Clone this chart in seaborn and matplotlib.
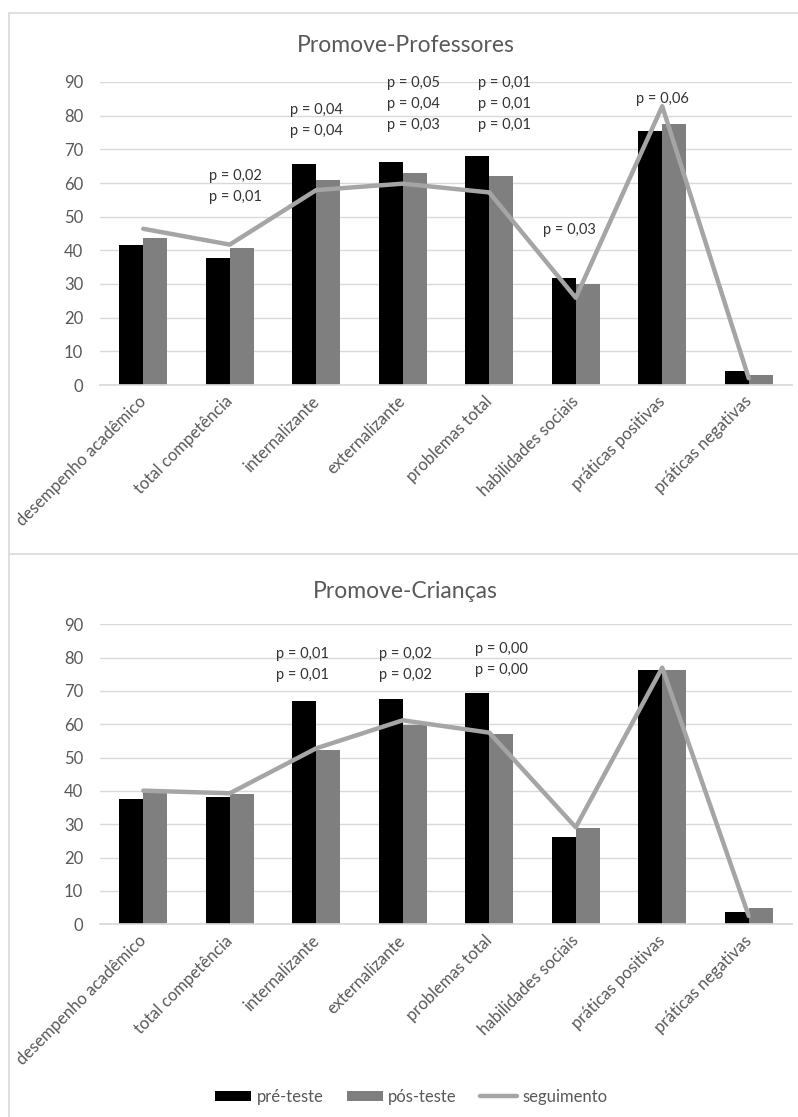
import numpy as np
import pandas as pd
import seaborn as sns
import matplotlib.pyplot as plt
from matplotlib.patches import Patch
from matplotlib.lines import Line2D

# dados
categorias = ["desempenho acadêmico", "total competência", "internalizante", "externalizante",
              "problemas total", "habilidades sociais", "práticas positivas", "práticas negativas"]
series = ["pré-teste", "pós-teste", "seguimento"]

# Promove-Professores
prof_pre = [41.5, 37.6, 65.5, 66.1, 68.0, 31.7, 75.5, 4.2]
prof_pos = [43.7, 40.6, 61.0, 62.9, 62.0, 29.9, 77.6, 3.0]
prof_seg = [46.4, 41.7, 57.9, 59.8, 57.2, 25.9, 82.8, 2.0]

# Promove-Crianças
cri_pre = [37.6, 38.1, 66.9, 67.5, 69.4, 26.3, 76.3, 3.7]
cri_pos = [39.6, 39.1, 52.2, 59.8, 57.0, 28.8, 76.3, 5.0]
cri_seg = [40.1, 39.3, 52.8, 61.2, 57.5, 29.1, 77.0, 2.5]

# valores de p por categoria
prof_pvals = {1: ["p = 0,02", "p = 0,01"],
              2: ["p = 0,04", "p = 0,04"],
              3: ["p = 0,05", "p = 0,04", "p = 0,03"],
              4: ["p = 0,01", "p = 0,01", "p = 0,01"],
              5: ["p = 0,03"],
              6: ["p = 0,06"]}
cri_pvals = {2: ["p = 0,01", "p = 0,01"],
             3: ["p = 0,02", "p = 0,02"],
             4: ["p = 0,00", "p = 0,00"]}

# posição dos textos (deslocamento x, y do topo)
prof_pos_txt = {1: (0.06, 62.1), 2: (0.0, 81.7), 3: (0.12, 89.6), 4: (0.17, 89.6), 5: (-0.07, 46.0), 6: (0.0, 84.9)}
cri_pos_txt = {2: (-0.16, 81.1), 3: (0.03, 81.1), 4: (0.14, 82.6)}

COR_PRE = "#000000"
COR_POS = "#7f7f7f"
COR_SEG = "#a5a5a5"
COR_TXT = "#595959"
COR_GRADE = "#d9d9d9"

sns.set_theme(style="white")
plt.rcParams["font.family"] = ["Lato", "DejaVu Sans"]

fig = plt.figure(figsize=(7.98, 11.17), dpi=100)
W, H = 798, 1117


def painel(y_topo, y_base, titulo, pre, pos, seg, pvals, pos_txt, y_titulo):
    ax = fig.add_axes([100 / W, 1 - y_base / H, 692 / W, (y_base - y_topo) / H])
    df = pd.DataFrame({"categoria": categorias * 2,
                       "serie": ["pré-teste"] * 8 + ["pós-teste"] * 8,
                       "valor": pre + pos})
    sns.barplot(data=df, x="categoria", y="valor", hue="serie", ax=ax,
                palette=[COR_PRE, COR_POS], width=0.555, gap=0, linewidth=0,
                saturation=1, legend=False)
    sns.pointplot(x=categorias, y=seg, ax=ax, color=COR_SEG, markers="",
                  linewidth=3.2, errorbar=None)
    ax.set_ylim(0, 90)
    ax.set_xlim(-0.5, 7.5)
    ax.set_yticks(range(0, 91, 10))
    ax.yaxis.grid(True, color=COR_GRADE, linewidth=1)
    ax.set_axisbelow(True)
    for s in ["top", "right", "left"]:
        ax.spines[s].set_visible(False)
    ax.spines["bottom"].set_color(COR_GRADE)
    ax.tick_params(axis="both", length=0, colors=COR_TXT, labelsize=12)
    ax.tick_params(axis="y", pad=12)
    ax.tick_params(axis="x", pad=10, labelsize=12)
    ax.set_xticks(range(len(categorias)))
    ax.set_xticklabels(categorias, rotation=45, ha="right", va="center",
                       rotation_mode="anchor")
    ax.set_xlabel("")
    ax.set_ylabel("")
    for i, linhas in pvals.items():
        dx, y0 = pos_txt[i]
        for k, t in enumerate(linhas):
            ax.text(i + dx, y0 - k * 6.25, t, ha="center", va="center",
                    fontsize=10.5, color="#333333")
    fig.text(0.508, 1 - y_titulo / H, titulo, ha="center", va="center",
             fontsize=16.5, color=COR_TXT)
    return ax


painel(82, 385, "Promove-Professores", prof_pre, prof_pos, prof_seg,
       prof_pvals, prof_pos_txt, 45)
painel(624.3, 924.3, "Promove-Crianças", cri_pre, cri_pos, cri_seg,
       cri_pvals, cri_pos_txt, 592)

# bordas das áreas dos gráficos
for coords in [([9 / W, 9 / W], [0, 1 - 13 / H]),
               ([9 / W, 1], [1 - 13 / H, 1 - 13 / H]),
               ([9 / W, 1], [1 - 554 / H, 1 - 554 / H])]:
    fig.add_artist(Line2D(coords[0], coords[1], color=COR_GRADE, linewidth=1.2))

handles = [Patch(facecolor=COR_PRE, edgecolor="none"),
           Patch(facecolor=COR_POS, edgecolor="none"),
           Line2D([0], [0], color=COR_SEG, linewidth=3.2)]
fig.legend(handles, series, loc="center", bbox_to_anchor=(0.515, 1 - 1097 / H),
           ncol=3, frameon=False, fontsize=12, labelcolor=COR_TXT,
           handlelength=2.2, handleheight=0.6, columnspacing=1.4, handletextpad=0.3)

fig.savefig("out.png", dpi=100, facecolor="white")
